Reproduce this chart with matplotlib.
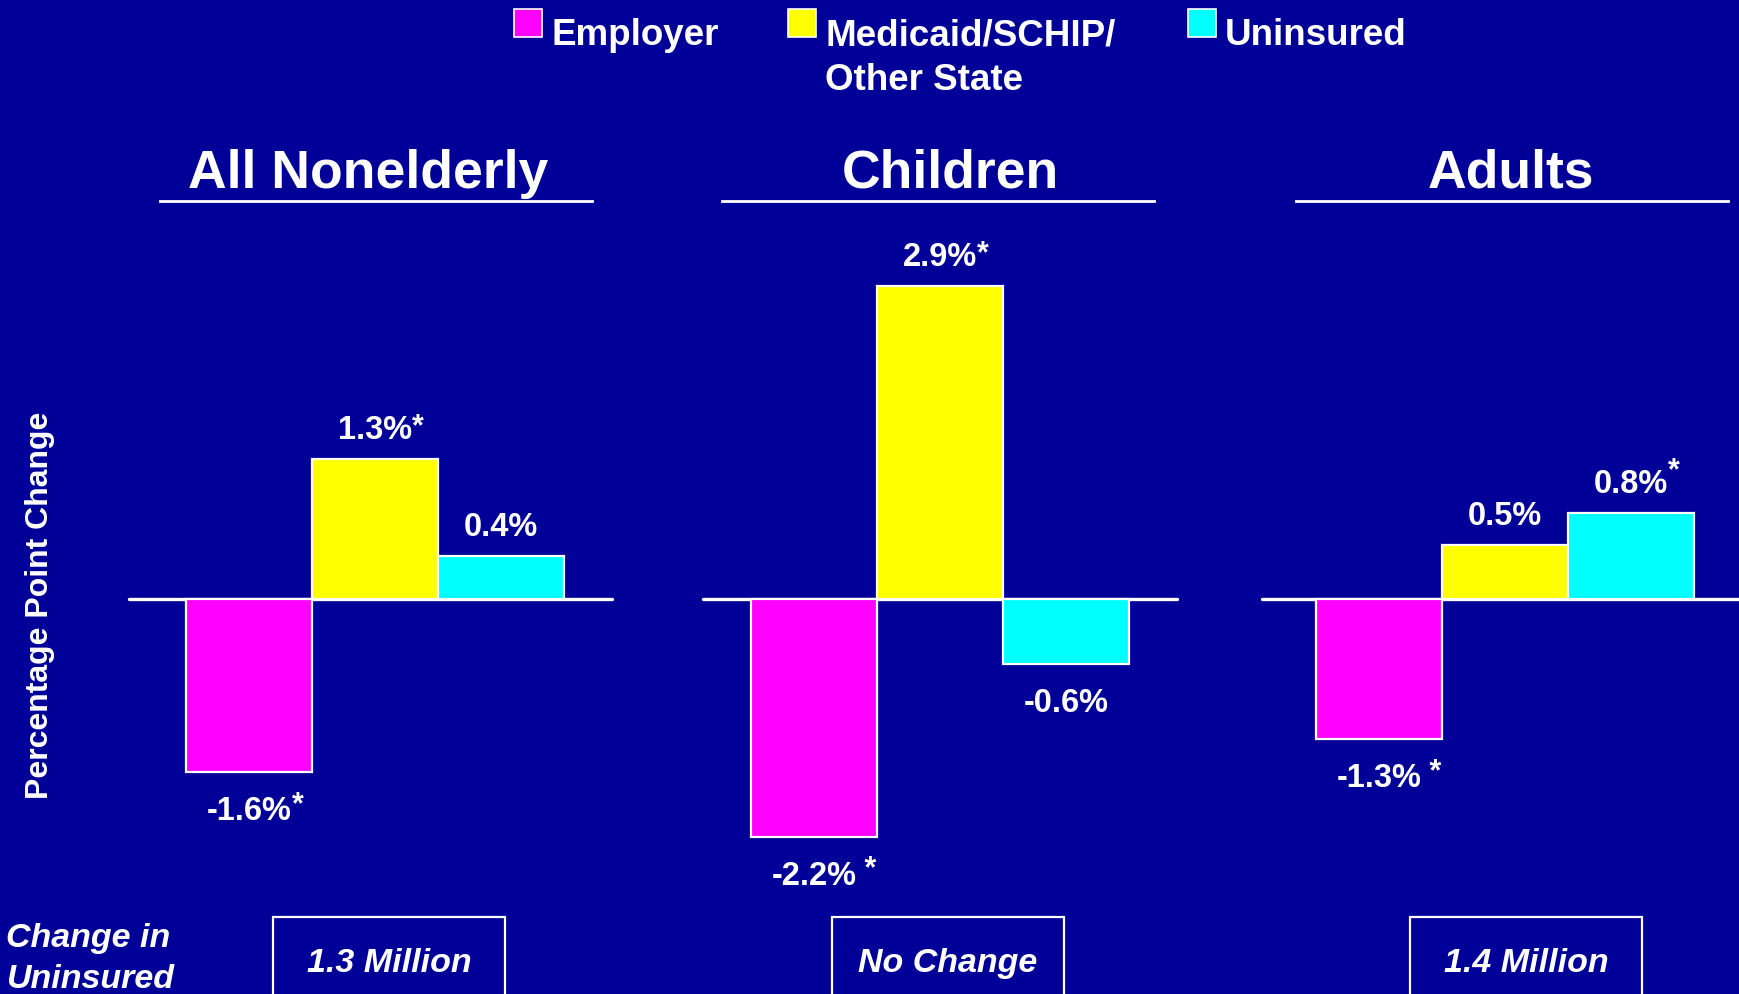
import numpy as np
import matplotlib
matplotlib.use("Agg")
import matplotlib.pyplot as plt
from matplotlib.patches import Rectangle
from matplotlib.lines import Line2D

# ---------------- data ----------------
groups = ["All Nonelderly", "Children", "Adults"]
series = ["Employer", "Medicaid/SCHIP/\nOther State", "Uninsured"]
employer = [-1.6, -2.2, -1.3]
medicaid = [1.3, 2.9, 0.5]
uninsured = [0.4, -0.6, 0.8]
employer_sig = ["*", " *", " *"]
medicaid_sig = ["*", "*", ""]
uninsured_sig = ["", "", "*"]
uninsured_change = ["1.3 Million", "No Change", "1.4 Million"]
row_label = "Change in\nUninsured"
y_label = "Percentage Point Change"

# ---------------- style ----------------
W, H = 1739, 995
BG = "#000099"
colors = ["#FF00FF", "#FFFF00", "#00FFFF"]
FONT = "Liberation Sans"
plt.rcParams["font.family"] = [FONT, "DejaVu Sans"]
plt.rcParams["font.weight"] = "bold"

fig = plt.figure(figsize=(W / 100, H / 100), dpi=100)
fig.patch.set_facecolor(BG)
ax = fig.add_axes([0, 0, 1, 1])
ax.set_facecolor(BG)
ax.axis("off")

PX_X = 565.0   # pixels per group unit
X0 = 375.0     # pixel of first group centre
PX_Y = 108.0   # pixels per percentage point
Y0 = 600.0     # pixel row (from top) of zero line
ax.set_xlim(-X0 / PX_X, (W - X0) / PX_X)
ax.set_ylim(-(H - Y0) / PX_Y, Y0 / PX_Y)

def fy(px_from_top):
    return 1 - px_from_top / H

def fx(px):
    return px / W

gx = np.arange(len(groups))
bw = 126.0 / PX_X
values = [employer, medicaid, uninsured]
sigs = [employer_sig, medicaid_sig, uninsured_sig]
star_raise = [[4, 4, 4], [2, 2, 2], [2, 2, 9]]

# zero lines
zl_left = [-0.435, -0.42, -0.43]
for i, g in enumerate(gx):
    right = g + 0.42 if i < len(gx) - 1 else ax.get_xlim()[1]
    ax.add_line(Line2D([g + zl_left[i], right], [0, 0], color="white",
                       lw=2.4, solid_capstyle="round", zorder=2))

for s, (vals, sg) in enumerate(zip(values, sigs)):
    xs = gx + (s - 1) * bw
    ax.bar(xs, vals, width=bw, color=colors[s], edgecolor="white",
           linewidth=1.6, zorder=3)
    for k, (x, v) in enumerate(zip(xs, vals)):
        txt = f"{v:.1f}%"
        if v >= 0:
            t = ax.annotate(txt, xy=(x, v), xytext=(0, 15),
                            textcoords="offset points", ha="center",
                            va="baseline", color="white", fontsize=23.5,
                            fontweight="bold")
        else:
            t = ax.annotate(txt, xy=(x, v), xytext=(0, -16.5),
                            textcoords="offset points", ha="center",
                            va="top", color="white", fontsize=23.5,
                            fontweight="bold")
        if sg[k]:
            ax.annotate(sg[k], xy=(1, 1), xycoords=t,
                        xytext=(0, star_raise[s][k]),
                        textcoords="offset points", ha="left", va="top",
                        color="white", fontsize=22, fontweight="bold")

# group titles with underlines
title_dx = [-7, 10, 6]      # pixel nudges
uline_dx = [1, -2, 7]
for g, name, tdx, udx in zip(gx, groups, title_dx, uline_dx):
    ax.text(g + tdx / PX_X, (Y0 - 188) / PX_Y, name, ha="center",
            va="baseline", color="white", fontsize=38.5, fontweight="bold")
    c = g + udx / PX_X
    ax.add_line(Line2D([c - 0.383, c + 0.383],
                       [(Y0 - 202) / PX_Y] * 2, color="white", lw=2.0))

# legend
leg_sq_left = [514, 788, 1188]
for name, c, lft in zip(series, colors, leg_sq_left):
    fig.patches.append(Rectangle((fx(lft), fy(38)), fx(28), 28 / H,
                                 transform=fig.transFigure,
                                 facecolor=c, edgecolor="white", lw=1.2))
    for j, line in enumerate(name.split("\n")):
        fig.text(fx(lft + 37), fy(45 + 45 * j), line, ha="left",
                 va="baseline", color="white", fontsize=26.5,
                 fontweight="bold")

# y label
fig.text(fx(40), fy(605), y_label, rotation=90, ha="center", va="center",
         color="white", fontsize=23, fontweight="bold")

# bottom row
for j, line in enumerate(row_label.split("\n")):
    fig.text(fx(6), fy(947 + 41 * j), line, ha="left", va="baseline",
             color="white", fontsize=24.5, fontweight="bold",
             style="italic")
box_left = [273, 832, 1410]
box_w = 232
for lft, lab in zip(box_left, uninsured_change):
    fig.patches.append(Rectangle((fx(lft), -0.05), fx(box_w),
                                 fy(918) + 0.05, transform=fig.transFigure,
                                 facecolor="none", edgecolor="white",
                                 lw=1.6))
    fig.text(fx(lft + box_w / 2), fy(972), lab, ha="center",
             va="baseline", color="white", fontsize=24.5,
             fontweight="bold", style="italic")

fig.savefig("out.png", dpi=100, facecolor=BG)
